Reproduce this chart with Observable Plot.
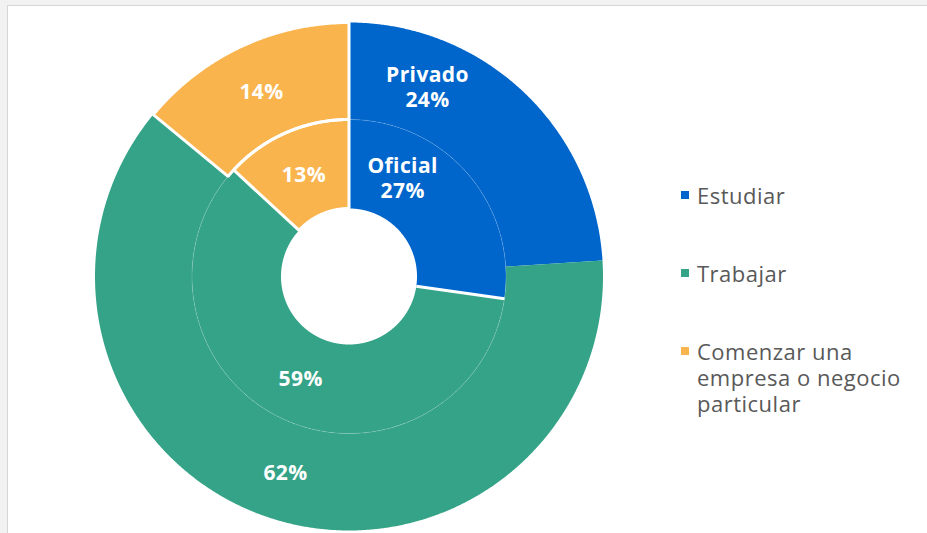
<!DOCTYPE html>
<html>
<head>
<meta charset="utf-8">
<script src="https://cdn.jsdelivr.net/npm/d3@7"></script>
<script src="https://cdn.jsdelivr.net/npm/@observablehq/plot@0.6"></script>
<style>
  html, body { margin: 0; padding: 0; width: 927px; height: 533px; overflow: hidden; background: #f2f2f2; }
  #panel { position: absolute; left: 7px; top: 5px; width: 940px; height: 560px; background: #fff; border: 1px solid #d6d6d6; }
  #chart { position: absolute; left: 0; top: 0; }
  #legend { position: absolute; left: 681px; top: 182px; display: flex; flex-direction: column; gap: 52px;
            font-family: "Open Sans", sans-serif; font-size: 22px; letter-spacing: 0.5px; line-height: 26px; color: #595959; }
  .item { display: flex; align-items: flex-start; }
  .sw { width: 8px; height: 8px; margin-top: 9px; margin-right: 8px; flex: none; }
  .lab { width: 225px; }
</style>
</head>
<body>
<div id="panel"></div>
<div id="chart"></div>
<div id="legend"></div>
<script>
// ---- data ----
const categories = ["Estudiar", "Trabajar", "Comenzar una empresa o negocio particular"];
const colors = ["#0066CC", "#35A387", "#F9B44D"];
const ringNames = ["Oficial", "Privado"];      // inner, outer
const oficial = [27, 59, 13];                   // inner ring (%)
const privado = [24, 62, 14];                   // outer ring (%)

// ---- layout constants ----
const W = 927, H = 533;
const cx = 348.5, cy = 276;
const radii = { Oficial: [68, 157], Privado: [157, 254] };
const firstLabelFrac = { Oficial: 0.29, Privado: 0.26 };  // label of named slice sits off-centre

const pt = (r, a) => ({ x: cx + r * Math.sin(a), y: cy - r * Math.cos(a) });

const slices = [];
[[ringNames[0], oficial], [ringNames[1], privado]].forEach(([ring, vals]) => {
  const total = d3.sum(vals);
  let acc = 0;
  vals.forEach((v, i) => {
    const a0 = acc / total * 2 * Math.PI;
    acc += v;
    const a1 = acc / total * 2 * Math.PI;
    const [r0, r1] = radii[ring];
    slices.push({ ring, i, cat: categories[i], color: colors[i], value: v, a0, a1, r0, r1, id: ring + i });
  });
});

function polygon(s) {
  const pts = [];
  const n = Math.max(2, Math.ceil((s.a1 - s.a0) / 0.005));
  for (let k = 0; k <= n; k++) pts.push(pt(s.r1, s.a0 + (s.a1 - s.a0) * k / n));
  for (let k = n; k >= 0; k--) pts.push(pt(s.r0, s.a0 + (s.a1 - s.a0) * k / n));
  pts.push(pts[0]);
  return pts.map(p => ({ ...p, id: s.id, color: s.color, i: s.i }));
}
const polyPts = slices.flatMap(polygon);

// faint seam between rings (r = inner ring outer radius)
const seam = d3.range(0, 361, 0.5).map(d => pt(radii.Oficial[1], d * Math.PI / 180));

// white separator between first and second inner slices
const innerFirst = slices.find(s => s.ring === "Oficial" && s.i === 0);
const sep = [{ a: innerFirst.a1, r0: innerFirst.r0, r1: innerFirst.r1 }];

// labels
const labels = slices.map(s => {
  const f = s.i === 0 ? firstLabelFrac[s.ring] : 0.5;
  const a = s.a0 + (s.a1 - s.a0) * f;
  const p = pt((s.r0 + s.r1) / 2, a);
  return { ...p, text: (s.i === 0 ? s.ring + "\n" : "") + s.value + "%" };
});

const chart = Plot.plot({
  width: W, height: H, margin: 0,
  x: { domain: [0, W], range: [0, W], axis: null },
  y: { domain: [0, H], range: [0, H], axis: null },
  color: { type: "identity" },
  style: { background: "transparent", overflow: "visible" },
  marks: [
    Plot.line(polyPts, { x: "x", y: "y", z: "id", fill: "color", stroke: "none", curve: "linear" }),
    Plot.line(seam, { x: "x", y: "y", stroke: "#ffffff", strokeOpacity: 0.25, strokeWidth: 0.6 }),
    Plot.link(sep, {
      x1: d => pt(d.r0, d.a).x, y1: d => pt(d.r0, d.a).y,
      x2: d => pt(d.r1, d.a).x, y2: d => pt(d.r1, d.a).y,
      stroke: "#ffffff", strokeWidth: 3
    }),
    Plot.line(polyPts.filter(d => d.i === 2), { x: "x", y: "y", z: "id", fill: "none", stroke: "#ffffff", strokeWidth: 3, strokeLinejoin: "miter" }),
    Plot.text(labels, {
      x: "x", y: "y", text: "text", fill: "#ffffff", fontSize: 21, fontWeight: 700,
      fontFamily: "Open Sans", lineHeight: 1.2, textAnchor: "middle"
    })
  ]
});
document.getElementById("chart").appendChild(chart);
d3.select(chart).selectAll("text").style("letter-spacing", "0.4px");

// legend
const legend = d3.select("#legend");
categories.forEach((c, i) => {
  const it = legend.append("div").attr("class", "item");
  it.append("div").attr("class", "sw").style("background", colors[i]);
  it.append("div").attr("class", "lab").text(c);
});
</script>
</body>
</html>
